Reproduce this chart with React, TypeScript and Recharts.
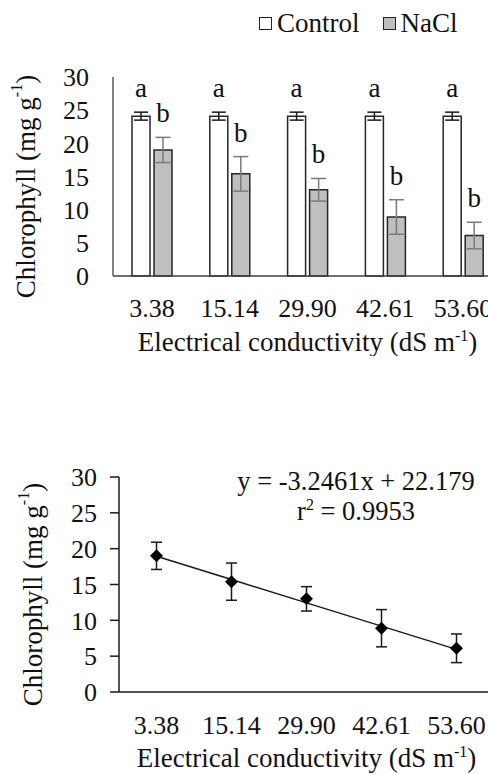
import React from 'react';
import {
  BarChart,
  Bar,
  XAxis,
  YAxis,
  ErrorBar,
  LabelList,
  ComposedChart,
  Line,
  Scatter,
} from 'recharts';

// Electrical conductivity levels (dS m-1)
const ecLevels = ['3.38', '15.14', '29.90', '42.61', '53.60'];

// Chlorophyll content (mg g-1), means and standard errors
const controlMean = [24.1, 24.1, 24.1, 24.1, 24.1];
const controlSe = [0.6, 0.6, 0.6, 0.6, 0.6];
const naclMean = [19.0, 15.4, 13.0, 8.9, 6.1];
const naclSe = [1.9, 2.6, 1.7, 2.6, 2.0];

// Mean separation letters
const controlLetters = ['a', 'a', 'a', 'a', 'a'];
const naclLetters = ['b', 'b', 'b', 'b', 'b'];

// Linear fit of the NaCl means, evaluated at each level
const fittedLine = [18.93, 15.69, 12.44, 9.19, 5.95];
const fitEquation = 'y = -3.2461x + 22.179';
const fitR2 = '0.9953';

const yTicks = [0, 5, 10, 15, 20, 25, 30];

const seriesNames = ['Control', 'NaCl'];
const seriesFills = ['#ffffff', '#bfbfbf'];

const SERIF = '"Liberation Serif", "Times New Roman", serif';
const INK = '#111111';
const TICK_FONT = 26;
const TITLE_FONT = 27;

const barData = ecLevels.map((ec, i) => ({
  ec,
  control: controlMean[i],
  controlSe: controlSe[i],
  nacl: naclMean[i],
  naclSe: naclSe[i],
}));

const fitData = ecLevels.map((ec, i) => ({
  pos: i + 1,
  mean: naclMean[i],
  se: naclSe[i],
  fit: fittedLine[i],
}));

// Letter placed just above the error bar cap of a bar
const letterLabel = (letters: string[], errs: number[]) => (props: any) => {
  const { x, y, width, height, value, index } = props;
  const pxPerUnit = Number(height) / Number(value);
  const capTop = Number(y) - errs[index] * pxPerUnit;
  return (
    <text
      x={Number(x) + Number(width) / 2}
      y={capTop - 15}
      textAnchor="middle"
      fontSize={27}
      fontFamily={SERIF}
      fill={INK}
    >
      {letters[index]}
    </text>
  );
};

const CategoryTick = (props: any) => {
  const { x, y, payload, names } = props;
  const text = names ? names[Number(payload.value) - 1] : payload.value;
  return (
    <text
      x={x}
      y={Number(y) + 41}
      textAnchor="middle"
      fontSize={TICK_FONT}
      fontFamily={SERIF}
      fill={INK}
    >
      {text}
    </text>
  );
};

const xTitle = (props: any) => {
  const vb = props.viewBox || {};
  return (
    <text
      x={vb.x + vb.width / 2}
      y={vb.y + 75}
      textAnchor="middle"
      fontSize={TITLE_FONT}
      fontFamily={SERIF}
      fill={INK}
    >
      Electrical conductivity (dS m
      <tspan dy={-10} fontSize={16}>
        -1
      </tspan>
      <tspan dy={10}>)</tspan>
    </text>
  );
};

const yTitle = (xOff: number) => (props: any) => {
  const vb = props.viewBox || {};
  const cx = vb.x + xOff;
  const cy = vb.y + vb.height / 2 + 10;
  return (
    <text
      x={cx}
      y={cy}
      transform={`rotate(-90 ${cx} ${cy})`}
      textAnchor="middle"
      dominantBaseline="central"
      fontSize={TITLE_FONT}
      fontFamily={SERIF}
      fill={INK}
    >
      Chlorophyll (mg g
      <tspan dy={-10} fontSize={16}>
        -1
      </tspan>
      <tspan dy={10}>)</tspan>
    </text>
  );
};

const Diamond = (props: any) => {
  const { cx, cy } = props;
  const r = 6.5;
  return (
    <polygon
      points={`${cx},${cy - r} ${cx + r},${cy} ${cx},${cy + r} ${cx - r},${cy}`}
      fill="#000"
    />
  );
};

export default function App() {
  return (
    <div
      style={{
        position: 'absolute',
        left: 0,
        top: 0,
        width: 488,
        height: 774,
        overflow: 'hidden',
        background: '#fff',
      }}
    >
      {/* Legend */}
      <div
        style={{
          position: 'absolute',
          left: 259,
          top: 8,
          display: 'flex',
          alignItems: 'center',
          gap: 23,
          fontFamily: SERIF,
          fontSize: 27,
          lineHeight: '30px',
          color: INK,
          whiteSpace: 'nowrap',
        }}
      >
        {seriesNames.map((name, i) => (
          <div key={name} style={{ display: 'flex', alignItems: 'center' }}>
            <span
              style={{
                display: 'inline-block',
                width: 11,
                height: 11,
                border: '1.3px solid #222',
                background: seriesFills[i],
                marginRight: 5,
              }}
            />
            <span>{name}</span>
          </div>
        ))}
      </div>

      {/* Bar chart: control vs NaCl */}
      <div style={{ position: 'absolute', left: 0, top: 0 }}>
        <BarChart
          width={510}
          height={356}
          data={barData}
          margin={{ top: 77, right: 8, bottom: 0, left: 0 }}
          barSize={18}
          barGap={4}
        >
          <XAxis
            dataKey="ec"
            type="category"
            height={80}
            tickLine={false}
            tickSize={0}
            tickMargin={0}
            axisLine={{ stroke: '#404040', strokeWidth: 1.5 }}
            tick={<CategoryTick />}
            interval={0}
            label={xTitle}
          />
          <YAxis
            width={113}
            domain={[0, 30]}
            ticks={yTicks}
            interval={0}
            tickLine={false}
            tickSize={0}
            tickMargin={24}
            axisLine={{ stroke: '#595959', strokeWidth: 1.5 }}
            tick={{ fontSize: TICK_FONT, fontFamily: SERIF, fill: INK }}
            label={yTitle(26)}
          />
          <Bar
            dataKey="control"
            name={seriesNames[0]}
            fill={seriesFills[0]}
            stroke="#262626"
            strokeWidth={1.5}
            isAnimationActive={false}
          >
            <ErrorBar dataKey="controlSe" width={7} stroke="#1a1a1a" strokeWidth={1.5} direction="y" />
            <LabelList dataKey="control" content={letterLabel(controlLetters, controlSe)} />
          </Bar>
          <Bar
            dataKey="nacl"
            name={seriesNames[1]}
            fill={seriesFills[1]}
            stroke="#262626"
            strokeWidth={1.5}
            isAnimationActive={false}
          >
            <ErrorBar dataKey="naclSe" width={7.5} stroke="#7a7a7a" strokeWidth={1.5} direction="y" />
            <LabelList dataKey="nacl" content={letterLabel(naclLetters, naclSe)} />
          </Bar>
        </BarChart>
      </div>

      {/* NaCl means with linear fit */}
      <div style={{ position: 'absolute', left: 0, top: 400 }}>
        <ComposedChart
          width={500}
          height={374}
          data={fitData}
          margin={{ top: 77, right: 6, bottom: 0, left: 0 }}
        >
          <XAxis
            xAxisId="grid"
            dataKey="pos"
            type="number"
            domain={[0.5, 5.5]}
            ticks={[0.5, 1.5, 2.5, 3.5, 4.5, 5.5]}
            interval={0}
            allowDataOverflow
            height={1}
            tick={false}
            tickSize={7}
            axisLine={{ stroke: '#1a1a1a', strokeWidth: 1.5 }}
            tickLine={{ stroke: '#1a1a1a', strokeWidth: 1.5 }}
          />
          <XAxis
            xAxisId="labels"
            dataKey="pos"
            type="number"
            domain={[0.5, 5.5]}
            ticks={[1, 2, 3, 4, 5]}
            interval={0}
            allowDataOverflow
            height={81}
            axisLine={false}
            tickLine={false}
            tickSize={0}
            tickMargin={0}
            tick={<CategoryTick names={ecLevels} />}
            label={(p: any) => xTitle({ viewBox: { ...p.viewBox, y: p.viewBox.y - 1 } })}
          />
          <YAxis
            width={119}
            domain={[0, 30]}
            ticks={yTicks}
            interval={0}
            tickSize={9}
            tickMargin={13}
            axisLine={{ stroke: '#1a1a1a', strokeWidth: 1.5 }}
            tickLine={{ stroke: '#1a1a1a', strokeWidth: 1.5 }}
            tick={{ fontSize: TICK_FONT, fontFamily: SERIF, fill: INK }}
            label={yTitle(33)}
          />
          <Line
            xAxisId="grid"
            dataKey="fit"
            type="linear"
            stroke="#1a1a1a"
            strokeWidth={1.5}
            dot={false}
            isAnimationActive={false}
          />
          <Scatter
            xAxisId="grid"
            dataKey="mean"
            fill="#000"
            shape={<Diamond />}
            isAnimationActive={false}
          >
            <ErrorBar dataKey="se" width={5.5} stroke="#1a1a1a" strokeWidth={1.5} direction="y" />
          </Scatter>
        </ComposedChart>
      </div>

      {/* Regression equation */}
      <svg
        width={488}
        height={774}
        style={{ position: 'absolute', left: 0, top: 0, pointerEvents: 'none' }}
      >
        <text x={356} y={490} textAnchor="middle" fontSize={26.5} fontFamily={SERIF} fill={INK}>
          {fitEquation}
        </text>
        <text x={356} y={520} textAnchor="middle" fontSize={26.5} fontFamily={SERIF} fill={INK}>
          r
          <tspan dy={-10} fontSize={16}>
            2
          </tspan>
          <tspan dy={10}>{` = ${fitR2}`}</tspan>
        </text>
      </svg>
    </div>
  );
}
